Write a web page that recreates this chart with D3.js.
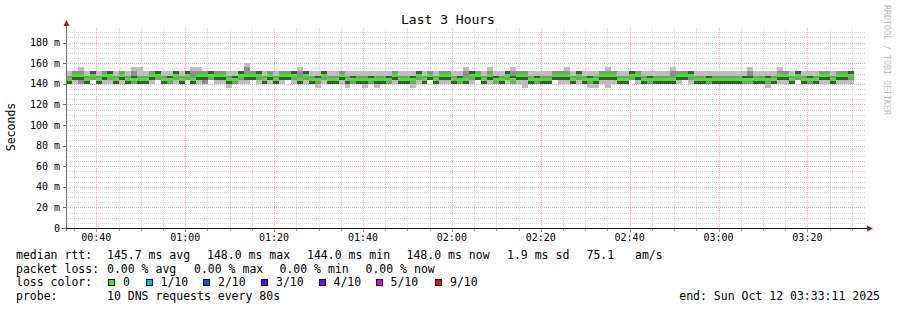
<!DOCTYPE html>
<html>
<head>
<meta charset="utf-8">
<script src="https://cdn.jsdelivr.net/npm/d3@7"></script>
<style>
  body { margin: 0; background: #fff; }
  text { font-family: "DejaVu Sans Mono", monospace; fill: #000; }
</style>
</head>
<body>
<div id="chart"></div>
<script>
// Smokeping "Last 3 Hours", one column every 80 s, values in ms
const startTime = new Date(2025, 9, 12, 0, 33, 11);
const endTime = new Date(2025, 9, 12, 3, 33, 11);
const stepSeconds = 80;

const median = [
  144,148,148,144,148,144,148,148,144,148, 144,144,144,144,148,148,144,144,148,144,
  148,144,148,148,148,148,148,144,144,148, 148,148,148,144,148,144,148,148,148,144,
  148,144,144,148,144,144,148,144,144,144, 144,144,144,144,144,148,144,144,144,148,
  144,148,144,148,148,144,144,144,148,148, 144,148,144,144,148,144,148,148,144,144,
  144,144,148,148,148,144,148,144,144,144, 148,148,148,144,144,148,148,144,144,144,
  144,144,144,148,148,148,144,144,144,144, 144,144,144,144,144,144,144,144,144,144,
  148,148,144,148,144,144,144,148,148,144, 148,148,148
];
const pingMin = [
  140,140,140,140,144,140,140,140,140,140, 140,140,140,140,140,144,140,140,140,140,
  144,140,140,140,144,140,140,136,140,140, 140,144,140,140,140,140,140,144,140,140,
  140,140,136,140,140,140,140,136,140,140, 136,140,136,140,140,140,140,140,136,140,
  140,144,140,140,140,140,140,140,140,144, 140,140,140,140,140,140,140,136,140,140,
  140,140,144,140,140,140,140,140,136,136, 140,136,140,140,140,144,140,140,140,140,
  140,140,140,140,144,140,140,140,140,140, 140,140,140,140,140,140,140,140,136,140,
  140,140,140,144,140,140,140,140,140,140, 140,140,140
];
const pingMax = [
  152,152,156,152,152,152,152,152,152,152, 152,156,156,152,152,152,152,152,152,152,
  152,156,156,152,152,152,152,152,152,152, 160,152,152,152,152,152,152,152,152,156,
  152,152,152,152,152,152,152,152,152,152, 152,152,152,152,152,152,152,152,152,152,
  152,152,152,152,152,152,152,156,152,152, 152,156,152,152,152,156,152,152,152,152,
  152,152,152,152,156,152,152,152,152,152, 152,156,152,152,152,152,152,152,152,152,
  152,152,156,152,152,152,152,152,152,152, 152,152,152,152,152,156,152,152,152,152,
  156,152,152,152,152,152,152,152,152,152, 152,152,152
];
const midLo = [
  140,144,140,140,144,140,144,144,140,144, 140,140,140,140,144,144,140,140,144,140,
  144,140,144,140,144,144,144,140,140,144, 144,144,144,140,144,140,144,144,144,140,
  144,140,140,144,140,140,144,140,140,140, 140,140,140,140,140,144,140,140,140,144,
  140,144,140,144,144,140,140,140,144,144, 140,144,140,140,144,140,144,144,140,140,
  140,140,144,144,144,140,144,140,140,140, 144,144,144,140,140,144,144,140,140,140,
  140,140,140,144,144,144,140,140,140,140, 140,140,140,140,140,140,140,140,140,140,
  144,144,140,144,140,140,140,144,144,140, 144,144,144
];
const midHi = [
  148,152,152,148,152,148,152,152,148,152, 148,152,148,148,152,152,148,148,152,148,
  152,152,152,152,152,152,152,148,148,152, 156,152,152,148,152,148,152,152,152,152,
  152,148,148,152,148,148,152,148,148,148, 148,148,148,148,148,152,148,148,148,152,
  148,152,148,152,152,148,148,152,152,152, 148,152,148,148,152,152,152,152,148,148,
  148,148,152,152,152,148,152,148,148,148, 152,152,152,148,148,152,152,148,148,148,
  148,148,152,152,152,152,148,148,148,148, 148,148,148,148,148,152,148,148,148,148,
  152,152,148,152,148,148,148,152,152,148, 152,152,152
];
const coreLo = [
  140,144,144,140,148,140,144,148,140,144, 140,144,140,140,144,148,140,144,148,140,
  148,140,144,144,148,144,144,140,144,148, 144,144,148,140,144,140,144,144,148,140,
  148,140,144,148,140,140,144,140,144,140, 140,144,140,140,144,144,140,140,144,148,
  140,144,140,144,144,140,144,140,148,144, 140,144,144,140,148,144,144,144,140,144,
  140,140,144,144,144,140,148,140,144,140, 144,144,144,140,140,148,144,140,144,140,
  140,140,140,144,144,148,140,140,144,140, 140,140,140,140,144,144,140,140,144,140,
  144,144,140,148,140,144,140,144,144,140, 144,144,148
];
const coreHi = [
  144,148,148,144,152,144,148,152,144,148, 144,148,144,144,148,152,144,148,152,144,
  152,144,148,148,152,148,148,144,148,152, 148,148,152,144,148,144,148,148,152,144,
  152,144,148,152,144,144,148,144,148,144, 144,148,144,144,148,148,144,144,148,152,
  144,148,144,148,148,144,148,144,152,148, 144,148,148,144,152,148,148,148,144,148,
  144,144,148,148,148,144,152,144,148,144, 148,148,148,144,144,152,148,144,148,144,
  144,144,144,148,148,152,144,144,148,144, 144,144,144,144,148,148,144,144,148,144,
  148,148,144,152,144,148,144,148,148,144, 148,148,152
];

const yTickValues = [0, 20, 40, 60, 80, 100, 120, 140, 160, 180];
const lossColors = ["#26ff00", "#00b8ff", "#0059ff", "#5e00ff", "#7e00ff", "#dd00ff", "#ff0000"];
const lossLabels = ["0", "1/10", "2/10", "3/10", "4/10", "5/10", "9/10"];

const width = 897;
const height = 310;
const plot = { left: 66, right: 866, top: 28, bottom: 228 };

const svg = d3.select("#chart")
  .append("svg")
  .attr("width", width)
  .attr("height", height)
  .style("display", "block");

svg.append("rect").attr("width", width).attr("height", height).attr("fill", "#fff");

// Scales
const x = d3.scaleTime()
  .domain([startTime, endTime])
  .range([plot.left, plot.right]);

const y = d3.scaleLinear()
  .domain([0, 194.2])
  .range([plot.bottom, plot.top]);

const colStart = i => Math.round(x(new Date(startTime.getTime() + i * stepSeconds * 1000)));
const py = v => Math.round(y(v));

// Grid first, smoke on top hides it where the band is
const grid = svg.append("g").attr("shape-rendering", "crispEdges");

const minorY = d3.range(5, 195, 5).filter(v => v % 20 !== 0);
const majorY = yTickValues.filter(v => v > 0);
const minorX = d3.timeMinute.every(5).range(startTime, endTime).filter(t => t.getMinutes() % 20 !== 0);
const majorX = d3.timeMinute.every(20).range(startTime, endTime);

grid.selectAll(".hminor").data(minorY).enter().append("line")
  .attr("x1", plot.left).attr("x2", plot.right)
  .attr("y1", d => py(d) + 0.5).attr("y2", d => py(d) + 0.5)
  .attr("stroke", "#d6d6d6").attr("stroke-dasharray", "1,1");
grid.selectAll(".vminor").data(minorX).enter().append("line")
  .attr("x1", d => Math.round(x(d)) + 0.5).attr("x2", d => Math.round(x(d)) + 0.5)
  .attr("y1", plot.top).attr("y2", plot.bottom)
  .attr("stroke", "#d6d6d6").attr("stroke-dasharray", "1,1");
grid.selectAll(".hmajor").data(majorY).enter().append("line")
  .attr("x1", plot.left).attr("x2", plot.right)
  .attr("y1", d => py(d) + 0.5).attr("y2", d => py(d) + 0.5)
  .attr("stroke", "#f0b0b0").attr("stroke-dasharray", "1,1");
grid.selectAll(".vmajor").data(majorX).enter().append("line")
  .attr("x1", d => Math.round(x(d)) + 0.5).attr("x2", d => Math.round(x(d)) + 0.5)
  .attr("y1", plot.top).attr("y2", plot.bottom)
  .attr("stroke", "#f0b0b0").attr("stroke-dasharray", "1,1");

// Smoke: outer, middle and inner pairs
const smokeLayers = [
  { lo: pingMin, hi: pingMax, color: "#bebebe" },
  { lo: midLo, hi: midHi, color: "#8e8e8e" },
  { lo: coreLo, hi: coreHi, color: "#4e4e4e" }
];

const smoke = svg.append("g").attr("shape-rendering", "crispEdges");
smokeLayers.forEach(layer => {
  smoke.append("g")
    .selectAll("rect")
    .data(median.map((m, i) => i))
    .enter()
    .append("rect")
    .attr("x", i => colStart(i))
    .attr("width", i => colStart(i + 1) - colStart(i))
    .attr("y", i => py(layer.hi[i]))
    .attr("height", i => py(layer.lo[i]) - py(layer.hi[i]))
    .attr("fill", layer.color);
});

// Median, coloured by loss (all 0 here)
smoke.append("g")
  .selectAll("rect")
  .data(median)
  .enter()
  .append("rect")
  .attr("x", (d, i) => colStart(i))
  .attr("width", (d, i) => colStart(i + 1) - colStart(i))
  .attr("y", d => Math.round(y(d) - 1.5))
  .attr("height", 3)
  .attr("fill", lossColors[0]);

// Axes
const axes = svg.append("g").attr("shape-rendering", "crispEdges");
axes.append("line")
  .attr("x1", plot.left + 0.5).attr("x2", plot.left + 0.5)
  .attr("y1", plot.bottom + 3).attr("y2", 24)
  .attr("stroke", "#707070");
axes.append("line")
  .attr("x1", plot.left - 4).attr("x2", 869)
  .attr("y1", plot.bottom + 0.5).attr("y2", plot.bottom + 0.5)
  .attr("stroke", "#202020");

axes.selectAll(".ytick").data(yTickValues).enter().append("line")
  .attr("x1", plot.left - 3).attr("x2", plot.left)
  .attr("y1", d => py(d) + 0.5).attr("y2", d => py(d) + 0.5)
  .attr("stroke", "#707070");
axes.selectAll(".xminor").data(minorX).enter().append("line")
  .attr("x1", d => Math.round(x(d)) + 0.5).attr("x2", d => Math.round(x(d)) + 0.5)
  .attr("y1", plot.bottom + 1).attr("y2", plot.bottom + 3)
  .attr("stroke", "#a0a0a0");
axes.selectAll(".xmajor").data(majorX).enter().append("line")
  .attr("x1", d => Math.round(x(d)) + 0.5).attr("x2", d => Math.round(x(d)) + 0.5)
  .attr("y1", plot.bottom + 1).attr("y2", plot.bottom + 4)
  .attr("stroke", "#a0a0a0");

// Arrow heads
svg.append("path")
  .attr("d", `M${plot.left - 2.5},26 L${plot.left + 3.5},26 L${plot.left + 0.5},20 Z`)
  .attr("fill", "#9a2020");
svg.append("path")
  .attr("d", `M867,${plot.bottom - 2.5} L867,${plot.bottom + 3.5} L873,${plot.bottom + 0.5} Z`)
  .attr("fill", "#9a2020");

// Tick labels
svg.append("g").selectAll("text").data(yTickValues).enter().append("text")
  .attr("x", 60)
  .attr("y", d => y(d) + 3.5)
  .attr("text-anchor", "end")
  .style("font-size", "10px")
  .text(d => d === 0 ? "0" : d + " m");

const fmt = d3.timeFormat("%H:%M");
svg.append("g").selectAll("text").data(majorX).enter().append("text")
  .attr("x", d => x(d))
  .attr("y", 241)
  .attr("text-anchor", "middle")
  .style("font-size", "10px")
  .text(d => fmt(d));

// Titles
svg.append("text")
  .attr("x", 448)
  .attr("y", 24)
  .attr("text-anchor", "middle")
  .style("font-size", "13px")
  .text("Last 3 Hours");

svg.append("text")
  .attr("transform", "translate(15,127) rotate(-90)")
  .attr("text-anchor", "middle")
  .style("font-size", "11.5px")
  .text("Seconds");

svg.append("text")
  .attr("transform", "translate(884,5) rotate(90)")
  .style("font-size", "8.3px")
  .style("fill", "#bcbcbc")
  .text("RRDTOOL / TOBI OETIKER");

// Legend
const legendRows = [
  { y: 259, items: [[16, "median rtt:"], [107, "145.7 ms avg"], [207, "148.0 ms max"], [307, "144.0 ms min"],
                    [406.5, "148.0 ms now"], [507, "1.9 ms sd"], [586.5, "75.1   am/s"]] },
  { y: 272.5, items: [[16, "packet loss:"], [107, "0.00 % avg"], [194, "0.00 % max"], [279.5, "0.00 % min"],
                      [365.5, "0.00 % now"]] },
  { y: 286, items: [[16, "loss color:"]] },
  { y: 299.5, items: [[16, "probe:"], [107, "10 DNS requests every 80s"]] }
];
const legend = svg.append("g");
legendRows.forEach(row => {
  row.items.forEach(([lx, t]) => {
    legend.append("text")
      .attr("x", lx).attr("y", row.y)
      .attr("xml:space", "preserve")
      .style("white-space", "pre")
      .style("font-size", "11.5px")
      .text(t);
  });
});

const boxX = [108, 145.5, 203, 261, 318.5, 375.5, 435];
legend.selectAll(".lossbox").data(lossColors).enter().append("rect")
  .attr("x", (d, i) => Math.round(boxX[i]) + 0.5)
  .attr("y", 279.5)
  .attr("width", 6).attr("height", 6)
  .attr("fill", d => d)
  .attr("stroke", "#000")
  .attr("shape-rendering", "crispEdges");
legend.selectAll(".losslabel").data(lossLabels).enter().append("text")
  .attr("x", (d, i) => boxX[i] + 15)
  .attr("y", 286)
  .style("font-size", "11.5px")
  .text(d => d);

svg.append("text")
  .attr("x", 880)
  .attr("y", 299.5)
  .attr("text-anchor", "end")
  .style("font-size", "11.5px")
  .text("end: Sun Oct 12 03:33:11 2025");
</script>
</body>
</html>
